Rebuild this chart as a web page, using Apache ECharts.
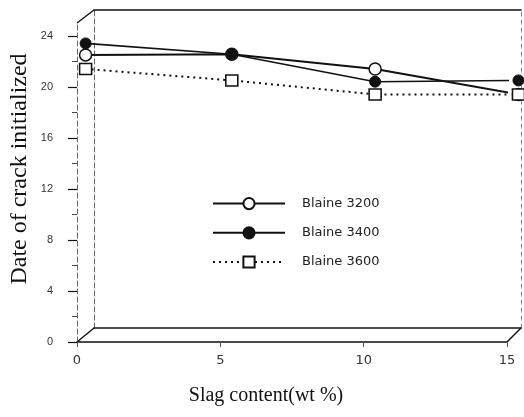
<!DOCTYPE html>
<html>
<head>
<meta charset="utf-8">
<script src="https://cdn.jsdelivr.net/npm/echarts@6/dist/echarts.min.js"></script>
<style>
  html, body { margin: 0; padding: 0; background: #fff; }
  #main { width: 524px; height: 417px; }
</style>
</head>
<body>
<div id="main"></div>
<script>
// slag content (wt %) where the points sit in the picture
var slag = [0.3, 5.4, 10.4, 15.4];
var blaine3200 = [22.5, 22.55, 21.4, 19.4];
var blaine3400 = [23.4, 22.55, 20.4, 20.5];
var blaine3600 = [21.4, 20.5, 19.4, 19.4];
var seriesNames = ['Blaine 3200', 'Blaine 3400', 'Blaine 3600'];

var xTicks = [0, 5, 10, 15];
var yTicks = [0, 4, 8, 12, 16, 20, 24];
var yMinorTicks = [2, 6, 10, 14, 18, 22];

var INK = '#111';

function pairs(xs, ys) {
  return xs.map(function (x, i) { return [x, ys[i]]; });
}

var chart = echarts.init(document.getElementById('main'), null, { renderer: 'canvas' });

var hidden = {
  axisTick: { show: false },
  axisLabel: { show: false },
  splitLine: { show: false }
};
function edgeLine(color, width, type) {
  return { show: true, onZero: false, lineStyle: { color: color, width: width, type: type || 'solid' } };
}

var option = {
  animation: false,
  backgroundColor: '#fff',
  grid: [
    // front plane
    { left: 77, right: 17, top: 23, bottom: 75 },
    // back plane of the box
    { left: 92, right: 3, top: 10, bottom: 89 }
  ],
  legend: {
    orient: 'vertical',
    left: 207,
    top: 192,
    itemWidth: 72,
    itemHeight: 14,
    itemGap: 16,
    data: seriesNames,
    textStyle: {
      fontFamily: 'DejaVu Sans',
      fontSize: 13,
      color: '#222',
      padding: [0, 0, 0, 12]
    }
  },
  xAxis: [
    {
      gridIndex: 0, type: 'value', min: 0, max: 15, interval: 5,
      name: 'Slag content(wt %)',
      nameLocation: 'middle',
      nameGap: 44,
      nameTextStyle: {
        fontFamily: 'Liberation Serif', fontSize: 20, color: INK,
        padding: [0, 52, 0, 0]
      },
      axisLine: edgeLine(INK, 1.5),
      axisTick: { show: true, length: 5, customValues: xTicks, lineStyle: { color: '#555' } },
      axisLabel: {
        customValues: xTicks, margin: 12,
        fontFamily: 'DejaVu Sans', fontSize: 13, color: '#333'
      },
      splitLine: { show: false }
    },
    Object.assign({ gridIndex: 1, type: 'value', min: 0, max: 15, position: 'bottom' }, hidden,
      { axisLine: edgeLine(INK, 1.5) }),
    Object.assign({ gridIndex: 1, type: 'value', min: 0, max: 15, position: 'top' }, hidden,
      { axisLine: edgeLine(INK, 1.6) })
  ],
  yAxis: [
    {
      gridIndex: 0, type: 'value', min: 0, max: 25, interval: 4, position: 'left',
      axisLine: edgeLine('#666', 1, [5, 3]),
      axisTick: { show: true, length: 9, customValues: yTicks, lineStyle: { color: INK, width: 1.2 } },
      axisLabel: {
        customValues: yTicks, margin: 24,
        fontFamily: 'Liberation Sans', fontSize: 11, color: '#333'
      },
      splitLine: { show: false }
    },
    Object.assign({ gridIndex: 0, type: 'value', min: 0, max: 25, position: 'left' }, hidden,
      {
        axisLine: { show: false, onZero: false },
        axisTick: { show: true, length: 5, customValues: yMinorTicks, lineStyle: { color: '#444' } }
      }),
    Object.assign({ gridIndex: 1, type: 'value', min: 0, max: 25, position: 'left' }, hidden,
      {
        name: 'Date of crack initialized',
        nameLocation: 'middle',
        nameGap: 62,
        nameTextStyle: { fontFamily: 'Liberation Serif', fontSize: 24, color: INK },
        axisLine: edgeLine('#666', 1, [5, 3])
      }),
    Object.assign({ gridIndex: 1, type: 'value', min: 0, max: 25, position: 'right' }, hidden,
      { axisLine: edgeLine('#888', 1, [4, 4]) })
  ],
  series: [
    {
      name: 'Blaine 3200',
      type: 'line',
      clip: false,
      data: pairs(slag, blaine3200),
      symbol: 'circle',
      symbolSize: 12,
      lineStyle: { color: INK, width: 2 },
      itemStyle: { color: '#fff', borderColor: INK, borderWidth: 1.5 }
    },
    {
      name: 'Blaine 3400',
      type: 'line',
      clip: false,
      data: pairs(slag, blaine3400),
      symbol: 'circle',
      symbolSize: 11,
      lineStyle: { color: INK, width: 1.6 },
      itemStyle: { color: INK, borderColor: INK, borderWidth: 1 }
    },
    {
      name: 'Blaine 3600',
      type: 'line',
      clip: false,
      data: pairs(slag, blaine3600),
      symbol: 'rect',
      symbolSize: [12, 11],
      lineStyle: { color: INK, width: 2, type: [2, 4] },
      itemStyle: { color: '#fff', borderColor: INK, borderWidth: 1.5 }
    }
  ]
};

chart.setOption(option);

// the three slanted edges of the box, joining front and back corners
var corners = [[0, 25], [0, 0], [15, 0]];
var edges = corners.map(function (c) {
  var f = chart.convertToPixel({ xAxisIndex: 0, yAxisIndex: 0 }, c);
  var b = chart.convertToPixel({ xAxisIndex: 1, yAxisIndex: 2 }, c);
  return {
    type: 'line',
    silent: true,
    shape: { x1: f[0], y1: f[1], x2: b[0], y2: b[1] },
    style: { stroke: INK, lineWidth: 1.4 }
  };
});
chart.setOption({ graphic: edges });
</script>
</body>
</html>
